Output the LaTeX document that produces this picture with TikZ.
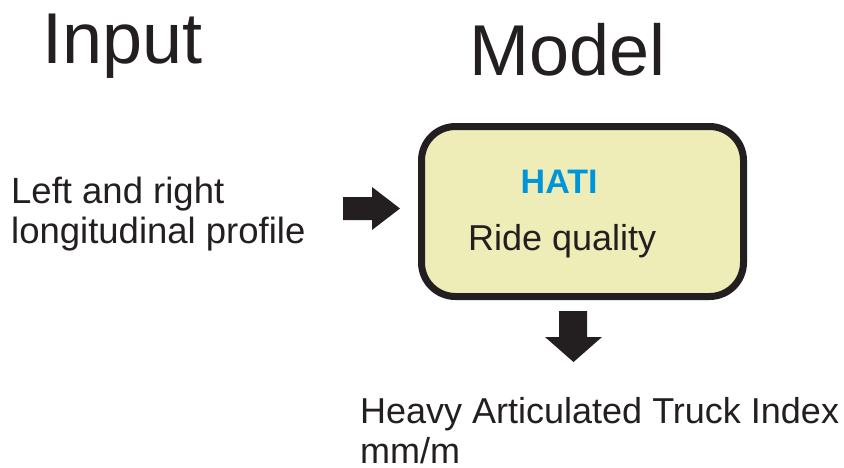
\documentclass[tikz,border=0pt]{standalone}
\usepackage{fontspec}
\setmainfont{Liberation Sans}
\definecolor{ink}{RGB}{35,31,32}
\definecolor{boxfill}{RGB}{238,237,184}
\definecolor{hatiblue}{RGB}{0,149,218}
\tikzset{
  big/.style={inner sep=0pt, anchor=base west, text=ink, font=\fontsize{72}{80}\selectfont},
  txt/.style={inner sep=0pt, anchor=base west, text=ink, font=\fontsize{36}{41}\selectfont},
  blockarrow/.style={fill=ink, draw=none},
  modelbox/.style={draw=ink, fill=boxfill, line width=7pt, rounded corners=34pt}
}
\begin{document}
\begin{tikzpicture}[x=1pt,y=-1pt]
\useasboundingbox (0,0) rectangle (844,467);
\node[big] (input) at (42,63) {Input};
\node[big] (model) at (469,75) {Model};
\node[txt, font=\fontsize{36.5}{41}\selectfont] (left1) at (11,203) {Left and right};
\node[txt, font=\fontsize{36.5}{41}\selectfont] (left2) at (11,243) {longitudinal profile};
\draw[modelbox] (421.5,126.5) rectangle (743.5,296.5);
\node[txt, text=hatiblue, font=\bfseries\fontsize{34}{40}\selectfont] (hati) at (520.5,193) {HATI};
\node[txt] (ride) at (468,250) {Ride quality};
\node[txt] (out1) at (360,423) {Heavy Articulated Truck Index};
\node[txt] (out2) at (360,463) {mm/m};
\fill[blockarrow] (343,197) -- (372,197) -- (372,187) -- (400,208.5) -- (372,230) -- (372,220) -- (343,220) -- cycle;
\fill[blockarrow] (559,311) -- (587,311) -- (587,337) -- (602,337) -- (573.5,362) -- (545,337) -- (559,337) -- cycle;
\end{tikzpicture}
\end{document}
